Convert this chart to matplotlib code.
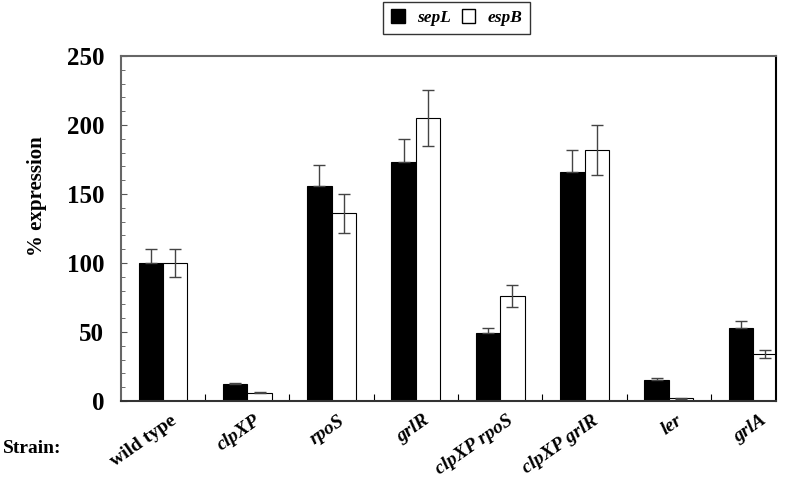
import numpy as np
import matplotlib.pyplot as plt
from matplotlib.patches import Patch

# Data
strains = ['wild type', 'clpXP', 'rpoS', 'grlR', 'clpXP rpoS',
           'clpXP grlR', 'ler', 'grlA']
sepL = [100, 12, 156, 173, 49, 166, 15, 53]
sepL_err = [10, 1, 15, 17, 4, 16, 1.5, 5]
espB = [100, 6, 136, 205, 76, 182, 2, 34]
espB_err = [10, 0.5, 14, 20, 8, 18, 0.3, 3]

plt.rcParams['font.family'] = 'Liberation Serif'
plt.rcParams['font.weight'] = 'bold'

fig = plt.figure(figsize=[8, 4.82], dpi=100)
ax = fig.add_axes([0.151, 0.168, 0.819, 0.716])

x = np.arange(len(strains))
w = 0.29
ecol = '#444444'
ax.bar(x - w/2, sepL, w, color='black', edgecolor='black', linewidth=0.8,
       zorder=2)
ax.bar(x + w/2, espB, w, color='white', edgecolor='black', linewidth=0.8,
       zorder=2)
ax.errorbar(x - w/2, sepL, yerr=[np.zeros(len(sepL)), sepL_err], fmt='none',
            ecolor=ecol, elinewidth=1, capsize=4, capthick=1, zorder=3)
ax.errorbar(x + w/2, espB, yerr=espB_err, fmt='none',
            ecolor=ecol, elinewidth=1, capsize=4, capthick=1, zorder=3)

ax.set_xlim(-0.5, 7.27)
ax.set_ylim(0, 250)
ax.set_yticks(np.arange(0, 251, 50))
ax.set_yticks(np.arange(0, 251, 10), minor=True)
ax.tick_params(axis='y', which='major', direction='in', length=4,
               labelsize=18, pad=12, color='#555555')
ax.tick_params(axis='y', which='minor', direction='in', length=3,
               color='#555555')
for t in ax.get_yticklabels():
    t.set_fontweight('bold')

# group separators on the x axis
ax.set_xticks(np.arange(0.5, 7, 1))
ax.tick_params(axis='x', which='major', direction='in', length=5,
               labelbottom=False, color='black')

for i, s in enumerate(strains):
    style = 'normal' if s == 'wild type' else 'italic'
    ax.text(i + 0.08, -8, s, rotation=35, ha='right', va='top',
            rotation_mode='anchor', fontsize=14, fontweight='bold',
            fontstyle=style, transform=ax.transData, clip_on=False)

fig.text(0.004, 0.06, 'Strain:', fontsize=14, fontweight='bold',
         ha='left', va='baseline')

ax.set_ylabel('% expression', fontsize=15, fontweight='bold')
ax.yaxis.set_label_coords(-0.112, 0.594)

ax.spines['top'].set_color('#666666')
ax.spines['left'].set_color('#666666')
ax.spines['bottom'].set_color('#333333')
ax.spines['right'].set_color('black')
for sp in ax.spines.values():
    sp.set_linewidth(1.5)

handles = [Patch(facecolor='black', edgecolor='black'),
           Patch(facecolor='white', edgecolor='black')]
leg = fig.legend(handles, ['sepL', 'espB'], ncol=2, loc='center',
                 bbox_to_anchor=(0.571, 0.963), frameon=True, fancybox=False,
                 handlelength=0.8, handleheight=0.8, columnspacing=0.6,
                 handletextpad=0.7, borderpad=0.45,
                 prop={'size': 12.5, 'weight': 'bold', 'style': 'italic'})
leg.get_frame().set_edgecolor('black')
leg.get_frame().set_linewidth(1)

plt.savefig('out.png', dpi=100)
